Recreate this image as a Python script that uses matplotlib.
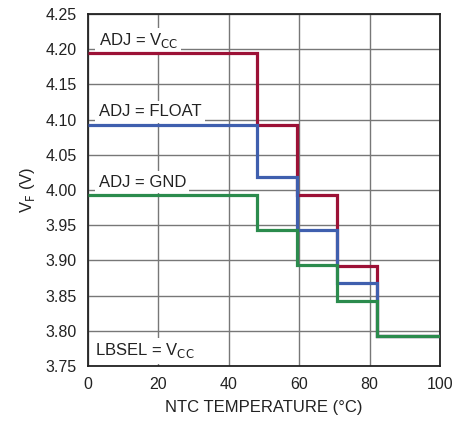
import matplotlib
matplotlib.use("Agg")
import matplotlib.pyplot as plt

plt.rcParams['font.family'] = ['Liberation Sans Narrow', 'Liberation Sans', 'DejaVu Sans']
plt.rcParams['mathtext.fontset'] = 'custom'
plt.rcParams['mathtext.rm'] = 'Liberation Sans Narrow'
plt.rcParams['mathtext.it'] = 'Liberation Sans Narrow'

# Data
temp_edges = [0, 48, 59.3, 70.6, 82, 100]
vf_vcc = [4.194, 4.093, 3.993, 3.892, 3.792]
vf_float = [4.093, 4.018, 3.943, 3.868, 3.792]
vf_gnd = [3.993, 3.943, 3.893, 3.843, 3.792]
x_ticks = [0, 20, 40, 60, 80, 100]
y_ticks = [3.75, 3.80, 3.85, 3.90, 3.95, 4.00, 4.05, 4.10, 4.15, 4.20, 4.25]

fig = plt.figure(figsize=(4.55, 4.25), dpi=100)
ax = fig.add_axes([88/455, 59/425, 352/455, 352/425])

red = '#9c1136'
blue = '#3f5fae'
green = '#2b8b4d'

ax.stairs(vf_vcc, temp_edges, color=red, lw=2.3, baseline=None, zorder=3)
ax.stairs(vf_float, temp_edges, color=blue, lw=2.3, baseline=None, zorder=4)
ax.stairs(vf_gnd, temp_edges, color=green, lw=2.3, baseline=None, zorder=5)

ax.set_xlim(0, 100)
ax.set_ylim(3.75, 4.25)
ax.set_xticks(x_ticks)
ax.set_yticks(y_ticks)
ax.set_yticklabels([f"{v:.2f}" for v in y_ticks])
ax.tick_params(length=0, labelsize=11.5, pad=8, colors='#222222')
ax.grid(True, color='#777777', lw=1.0, zorder=1)
ax.set_axisbelow(True)
for s in ax.spines.values():
    s.set_linewidth(1.3)
    s.set_color('#222222')

ax.set_xlabel('NTC TEMPERATURE (°C)', fontsize=12, labelpad=6, color='#222222')
ax.set_ylabel(r'V$_\mathrm{F}$ (V)', fontsize=12, labelpad=6, color='#222222')

box = dict(facecolor='white', edgecolor='none', pad=2.5)
ax.text(3, 4.212, r'ADJ = V$_\mathrm{CC}$', fontsize=12, va='center', ha='left', bbox=box, zorder=2, color='#222222')
ax.text(3, 4.111, 'ADJ = FLOAT', fontsize=12, va='center', ha='left', bbox=box, zorder=2, color='#222222')
ax.text(3, 4.011, 'ADJ = GND', fontsize=12, va='center', ha='left', bbox=box, zorder=2, color='#222222')
ax.text(2, 3.772, r'LBSEL = V$_\mathrm{CC}$', fontsize=12, va='center', ha='left', bbox=box, zorder=2, color='#222222')

fig.savefig('out.png', dpi=100)
